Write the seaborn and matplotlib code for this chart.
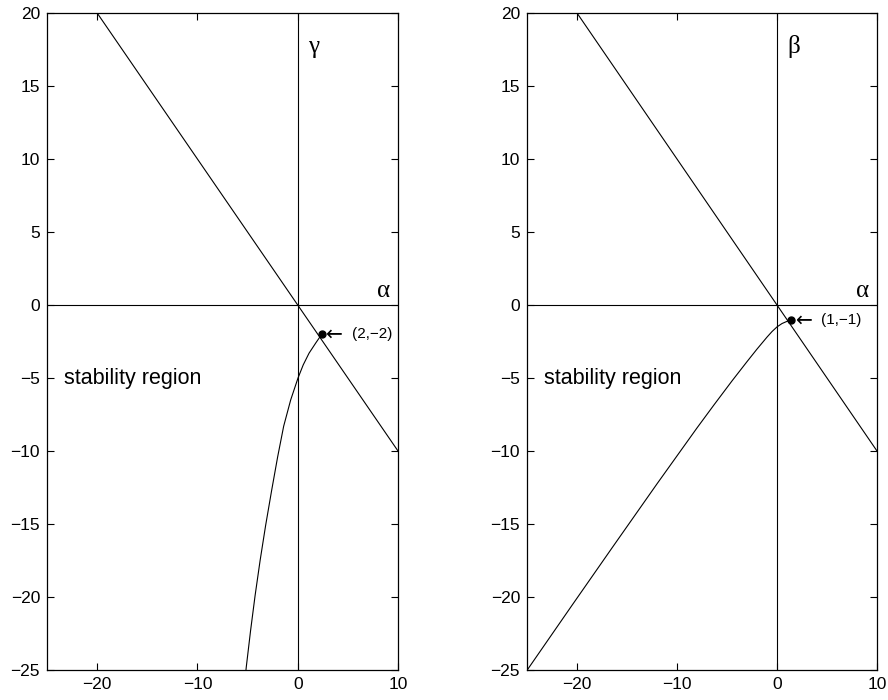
#Regiones de estabilidad - dos paneles estilo MATLAB
import matplotlib
matplotlib.use('Agg')
import matplotlib.pyplot as plt
import seaborn as sns
import pandas as pd

#datos
diag_alpha = [-25, 10]
diag_val = [25, -10]

gamma_alpha = [2.4, 1.8, 1.13, 0.55, 0.03, -0.7, -1.4, -2.0, -2.6, -3.2, -3.75, -4.25, -4.7, -5.13, -5.25]
gamma_val = [-2.0, -2.6, -3.3, -4.1, -5.0, -6.5, -8.3, -10.4, -12.7, -15.1, -17.5, -19.9, -22.3, -24.8, -25.6]

beta_alpha = [1.4, 1.0, 0.5, 0.0, -0.5, -1.0, -2.0, -3.0, -4.5, -6.3, -8.0, -12.0, -16.5, -20.5, -25.3]
beta_val = [-1.05, -1.12, -1.27, -1.5, -1.82, -2.2, -3.02, -3.88, -5.2, -6.84, -8.42, -12.25, -16.64, -20.57, -25.32]

punto_gamma = (2.4, -2.0)
punto_beta = (1.4, -1.05)
etiquetas = ['(2,\u22122)', '(1,\u22121)']
nombres_y = ['\u03b3', '\u03b2']

x_ticks = [-20, -10, 0, 10]
y_ticks = [20, 15, 10, 5, 0, -5, -10, -15, -20, -25]

sns.set_style('ticks')
plt.rcParams['font.family'] = ['Liberation Sans', 'DejaVu Sans']
plt.rcParams['text.color'] = 'black'
plt.rcParams['xtick.color'] = 'black'
plt.rcParams['ytick.color'] = 'black'

fig = plt.figure(figsize=(8.88, 7.0), dpi=100)
ax1 = fig.add_axes([47/888, 30/700, 351/888, 657/700])
ax2 = fig.add_axes([527/888, 30/700, 350/888, 657/700])

curvas = [(gamma_alpha, gamma_val), (beta_alpha, beta_val)]
puntos = [punto_gamma, punto_beta]

for i, ax in enumerate([ax1, ax2]):
    ax.axhline(0, color='black', lw=0.8)
    ax.axvline(0, color='black', lw=0.8)
    sns.lineplot(x=diag_alpha, y=diag_val, color='black', lw=0.8, ax=ax)
    df_c = pd.DataFrame({'a': curvas[i][0], 'b': curvas[i][1]})
    sns.lineplot(data=df_c, x='a', y='b', sort=False, estimator=None, color='black', lw=0.8, ax=ax)
    ax.plot([puntos[i][0]], [puntos[i][1]], 'o', color='black', ms=5)
    ax.text(puntos[i][0] + 0.45, puntos[i][1], '\u2190', fontsize=14.5, va='center', ha='left',
            color='black', family=['DejaVu Sans'])
    ax.text(puntos[i][0] + 3.0, puntos[i][1], etiquetas[i], fontsize=11, va='center', ha='left', color='black')
    ax.text(-23.3, -5.43, 'stability region', fontsize=15.5, va='baseline', ha='left', color='black')
    ax.text(1.0, 17.7, nombres_y[i], fontsize=18, va='center', ha='left', color='black',
            family=['Liberation Serif'])
    ax.text(7.9, 0.95, '\u03b1', fontsize=18, va='center', ha='left', color='black',
            family=['Liberation Serif'])

    ax.set_xlim(-25, 10)
    ax.set_ylim(-25, 20)
    ax.set_xticks(x_ticks)
    ax.set_yticks(y_ticks)
    ax.set_xlabel('')
    ax.set_ylabel('')
    ax.tick_params(direction='in', length=5, width=0.8, top=True, right=True, labelsize=12.5, pad=5,
                   colors='black')
    for s in ax.spines.values():
        s.set_visible(True)
        s.set_linewidth(0.9)
        s.set_color('black')

fig.savefig('out.png', dpi=100)
plt.close()
